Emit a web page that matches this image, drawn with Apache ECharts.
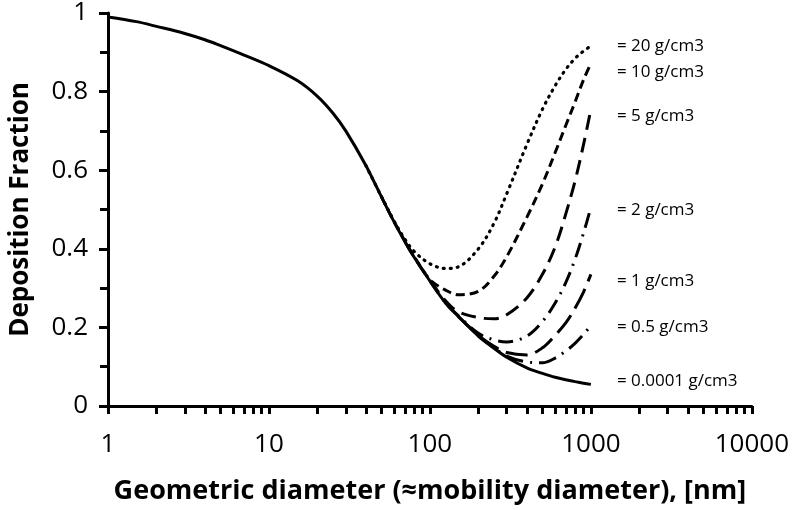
<!DOCTYPE html>
<html>
<head>
<meta charset="utf-8">
<script src="https://cdn.jsdelivr.net/npm/echarts@6/dist/echarts.min.js"></script>
<style>
html,body{margin:0;padding:0;background:#fff;}
#chart{width:792px;height:510px;}
</style>
</head>
<body>
<div id="chart"></div>
<script>
// Geometric diameter [nm]
const diam = [1, 1.5, 2, 3, 4, 5, 7, 10, 15, 20, 25, 30, 40, 50, 60, 70, 80, 100, 125, 150, 200, 250, 300, 400, 500, 600, 700, 800, 900, 1000];
// Deposition fraction per particle density (null = curve not drawn there)
const rho_0p0001 = [0.99, 0.978, 0.966, 0.948, 0.932, 0.917, 0.893, 0.866, 0.828, 0.788, 0.745, 0.700, 0.612, 0.532, 0.468, 0.418, 0.378, 0.318, 0.262, 0.228, 0.178, 0.147, 0.124, 0.097, 0.083, 0.073, 0.067, 0.062, 0.058, 0.055];
const rho_0p5 = [null, null, null, null, null, null, null, null, null, null, null, null, null, null, null, null, null, null, null, null, 0.178, 0.148, 0.127, 0.112, 0.110, 0.122, 0.140, 0.160, 0.182, 0.205];
const rho_1 = [null, null, null, null, null, null, null, null, null, null, null, null, null, null, null, null, null, null, null, 0.228, 0.180, 0.152, 0.136, 0.130, 0.148, 0.180, 0.212, 0.250, 0.290, 0.335];
const rho_2 = [null, null, null, null, null, null, null, null, null, null, null, null, null, null, null, null, null, 0.318, 0.263, 0.230, 0.185, 0.168, 0.163, 0.178, 0.215, 0.262, 0.315, 0.375, 0.440, 0.505];
const rho_5 = [null, null, null, null, null, null, null, null, null, null, null, null, null, null, null, 0.418, 0.378, 0.320, 0.268, 0.240, 0.225, 0.222, 0.232, 0.275, 0.335, 0.405, 0.490, 0.575, 0.665, 0.755];
const rho_10 = [null, null, null, null, null, null, null, null, null, null, null, null, null, 0.532, 0.468, 0.419, 0.380, 0.322, 0.295, 0.283, 0.292, 0.330, 0.380, 0.480, 0.565, 0.645, 0.715, 0.775, 0.830, 0.872];
const rho_20 = [null, null, null, null, null, null, null, null, null, null, null, null, 0.612, 0.533, 0.470, 0.424, 0.393, 0.362, 0.350, 0.354, 0.400, 0.465, 0.540, 0.665, 0.755, 0.815, 0.857, 0.885, 0.903, 0.916];

const seriesNames = ['= 20 g/cm3', '= 10 g/cm3', '= 5 g/cm3', '= 2 g/cm3', '= 1 g/cm3', '= 0.5 g/cm3', '= 0.0001 g/cm3'];
const seriesValues = [rho_20, rho_10, rho_5, rho_2, rho_1, rho_0p5, rho_0p0001];

const xTickValues = [1,2,3,4,5,6,7,8,9,10,20,30,40,50,60,70,80,90,100,200,300,400,500,600,700,800,900,1000,2000,3000,4000,5000,6000,7000,8000,9000,10000];
const xLabelValues = [1, 10, 100, 1000, 10000];

const dashStyles = [[1, 6], [9, 5], [15, 8], [15, 7, 2, 7], [22, 8], [18, 7, 2, 7], 'solid'];
const labelOffsets = [[26, 0], [26, 9], [26, 7], [26, 3], [26, 7], [26, 2], [26, -3]];

const FONT = '"Open Sans", "Liberation Sans", sans-serif';

function buildData(vals) {
  const out = [];
  for (let i = 0; i < diam.length; i++) {
    if (vals[i] !== null) out.push([diam[i], vals[i]]);
  }
  return out;
}

const series = seriesNames.map((name, k) => ({
  name: name,
  type: 'line',
  data: buildData(seriesValues[k]),
  smooth: 0.35,
  showSymbol: false,
  symbol: 'none',
  z: k === 6 ? 3 : 2,
  lineStyle: {
    color: '#000',
    width: k === 0 ? 3.2 : 3,
    type: dashStyles[k],
    cap: k === 0 ? 'round' : 'butt'
  },
  endLabel: {
    show: true,
    formatter: name,
    color: '#000',
    fontFamily: FONT,
    fontSize: 17,
    distance: 0,
    offset: labelOffsets[k]
  },
  emphasis: { disabled: true },
  animation: false
}));

const chart = echarts.init(document.getElementById('chart'), null, { renderer: 'canvas' });
chart.setOption({
  backgroundColor: '#fff',
  animation: false,
  grid: { left: 102, right: 39, top: 12, bottom: 98, containLabel: false },
  xAxis: {
    type: 'log',
    logBase: 10,
    min: 1,
    max: 10000,
    name: 'Geometric diameter (≈mobility diameter), [nm]',
    nameLocation: 'middle',
    nameGap: 72,
    nameTextStyle: { fontFamily: FONT, fontSize: 27, fontWeight: 'bold', color: '#000' },
    axisLine: { show: true, lineStyle: { color: '#000', width: 3 } },
    axisTick: { show: true, inside: false, length: 8, lineStyle: { color: '#000', width: 3 }, customValues: xTickValues },
    axisLabel: { show: true, customValues: xLabelValues, margin: 26, fontFamily: FONT, fontSize: 26, color: '#000', formatter: v => String(Math.round(v)) },
    splitLine: { show: false },
    minorTick: { show: false }
  },
  yAxis: {
    type: 'value',
    min: 0,
    max: 1,
    interval: 0.2,
    name: 'Deposition Fraction',
    nameLocation: 'middle',
    nameGap: 74,
    nameRotate: 90,
    nameTextStyle: { fontFamily: FONT, fontSize: 26, fontWeight: 'bold', color: '#000' },
    axisLine: { show: true, lineStyle: { color: '#000', width: 3 } },
    axisTick: { show: true, length: 9, lineStyle: { color: '#000', width: 3 } },
    minorTick: { show: true, splitNumber: 2, length: 8, lineStyle: { color: '#000', width: 3 } },
    axisLabel: { margin: 20, fontFamily: FONT, fontSize: 26, color: '#000', formatter: v => (Math.round(v * 10) / 10).toString() },
    splitLine: { show: false },
    minorSplitLine: { show: false }
  },
  series: series
});
</script>
</body>
</html>
